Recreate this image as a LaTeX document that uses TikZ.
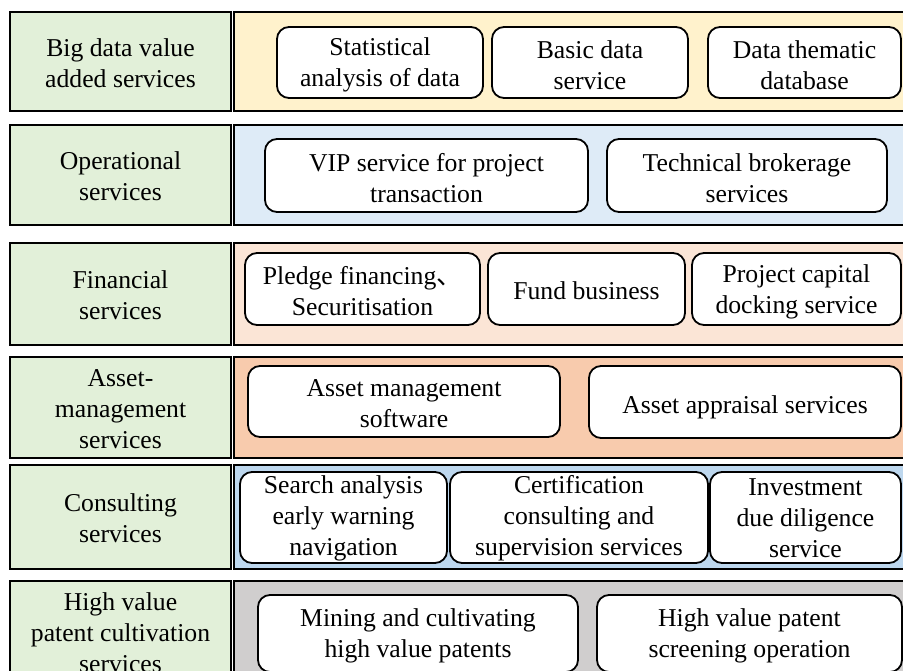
\documentclass[tikz,border=0pt]{standalone}
\usepackage{fontspec}
\setmainfont{Liberation Serif}
\newfontfamily\cjk{Noto Sans CJK SC}
\definecolor{catgreen}{HTML}{E2F0D9}
\definecolor{pyellow}{HTML}{FFF2CC}
\definecolor{pblue}{HTML}{DEEBF7}
\definecolor{ppeach}{HTML}{FBE5D6}
\definecolor{porange}{HTML}{F8CBAD}
\definecolor{pblue2}{HTML}{BDD7EE}
\definecolor{pgray}{HTML}{D0CECE}
\begin{document}
\begin{tikzpicture}[x=1pt,y=-1pt,
  txt/.style={inner sep=0pt, align=center, font=\fontsize{25.7}{31}\selectfont, yshift=-2.5pt},
  cat/.style={inner sep=0pt, draw=black, line width=2.2pt, fill=catgreen},
  panel/.style={draw=black, line width=2.2pt, inner sep=0pt},
  item/.style={inner sep=0pt, draw=black, line width=1.8pt, fill=white, rounded corners=12pt}]
\useasboundingbox (0,0) rectangle (903,671);
\clip (0,0) rectangle (903,671);
% category boxes
\node[cat, minimum width=221pt, minimum height=99pt] (c1) at (120.5,61.5) {};
\node[cat, minimum width=221pt, minimum height=100pt] (c2) at (120.5,175) {};
\node[cat, minimum width=221pt, minimum height=102pt] (c3) at (120.5,294) {};
\node[cat, minimum width=221pt, minimum height=101pt] (c4) at (120.5,407.5) {};
\node[cat, minimum width=221pt, minimum height=104pt] (c5) at (120.5,517) {};
\node[cat, minimum width=221pt, minimum height=100pt] (c6) at (120.5,631) {};
\node[txt, yshift=1pt] (c1t) at (c1) {Big data value\\added services};
\node[txt, yshift=1pt] (c2t) at (c2) {Operational\\services};
\node[txt, yshift=1pt] (c3t) at (c3) {Financial\\services};
\node[txt, yshift=1pt] (c4t) at (c4) {Asset-\\management\\services};
\node[txt, yshift=1pt] (c5t) at (c5) {Consulting\\services};
\node[txt, yshift=1pt] (c6t) at (c6) {High value\\patent cultivation\\services};
% panels
\node[panel, fill=pyellow, minimum width=686pt, minimum height=99pt] (p1) at (577,61.5) {};
\node[panel, fill=pblue, minimum width=686pt, minimum height=100pt] (p2) at (577,175) {};
\node[panel, fill=ppeach, minimum width=686pt, minimum height=102pt] (p3) at (577,294) {};
\node[panel, fill=porange, minimum width=686pt, minimum height=101pt] (p4) at (577,407.5) {};
\node[panel, fill=pblue2, minimum width=686pt, minimum height=104pt] (p5) at (577,517) {};
\node[panel, fill=pgray, minimum width=686pt, minimum height=100pt] (p6) at (577,631) {};
% row 1
\node[item, minimum width=206pt, minimum height=71pt] (s1) at (380,62.5) {};
\node[item, minimum width=196pt, minimum height=71pt] (s2) at (590,62.5) {};
\node[item, minimum width=193pt, minimum height=71pt] (s3) at (804.5,62.5) {};
\node[txt] (s1t) at (s1) {Statistical\\analysis of data};
\node[txt] (s2t) at (s2) {Basic data\\service};
\node[txt] (s3t) at (s3) {Data thematic\\database};
% row 2
\node[item, minimum width=323pt, minimum height=73pt] (o1) at (426.5,175.5) {};
\node[item, minimum width=280pt, minimum height=73pt] (o2) at (747,175.5) {};
\node[txt] (o1t) at (o1) {VIP service for project\\transaction};
\node[txt] (o2t) at (o2) {Technical brokerage\\services};
% row 3
\node[item, minimum width=235pt, minimum height=72pt] (f1) at (362.5,289) {};
\node[item, minimum width=197pt, minimum height=72pt] (f2) at (586.5,289) {};
\node[item, minimum width=209pt, minimum height=72pt] (f3) at (796.5,289) {};
\node[txt] (f1t) at (f1) {Pledge financing{\cjk 、}\\Securitisation};
\node[txt, yshift=1pt] (f2t) at (f2) {Fund business};
\node[txt] (f3t) at (f3) {Project capital\\docking service};
% row 4
\node[item, minimum width=312pt, minimum height=71pt] (a1) at (404,401.5) {};
\node[item, minimum width=312pt, minimum height=72pt] (a2) at (745,402) {};
\node[txt] (a1t) at (a1) {Asset management\\software};
\node[txt, yshift=-2.5pt] (a2t) at (a2) {Asset appraisal services};
% row 5
\node[item, minimum width=207pt, minimum height=91pt] (k1) at (343.5,517.5) {};
\node[item, minimum width=258pt, minimum height=91pt] (k2) at (579,517.5) {};
\node[item, minimum width=191pt, minimum height=91pt] (k3) at (805.5,517.5) {};
\node[txt, yshift=1.5pt] (k1t) at (k1) {Search analysis\\early warning\\navigation};
\node[txt, yshift=1.5pt] (k2t) at (k2) {Certification\\consulting and\\supervision services};
\node[txt, yshift=1.5pt] (k3t) at (k3) {Investment\\due diligence\\service};
% row 6
\node[item, minimum width=320pt, minimum height=77pt] (h1) at (418,633.5) {};
\node[item, minimum width=305pt, minimum height=77pt] (h2) at (749.5,633.5) {};
\node[txt] (h1t) at (h1) {Mining and cultivating\\high value patents};
\node[txt] (h2t) at (h2) {High value patent\\screening operation};
\end{tikzpicture}
\end{document}
